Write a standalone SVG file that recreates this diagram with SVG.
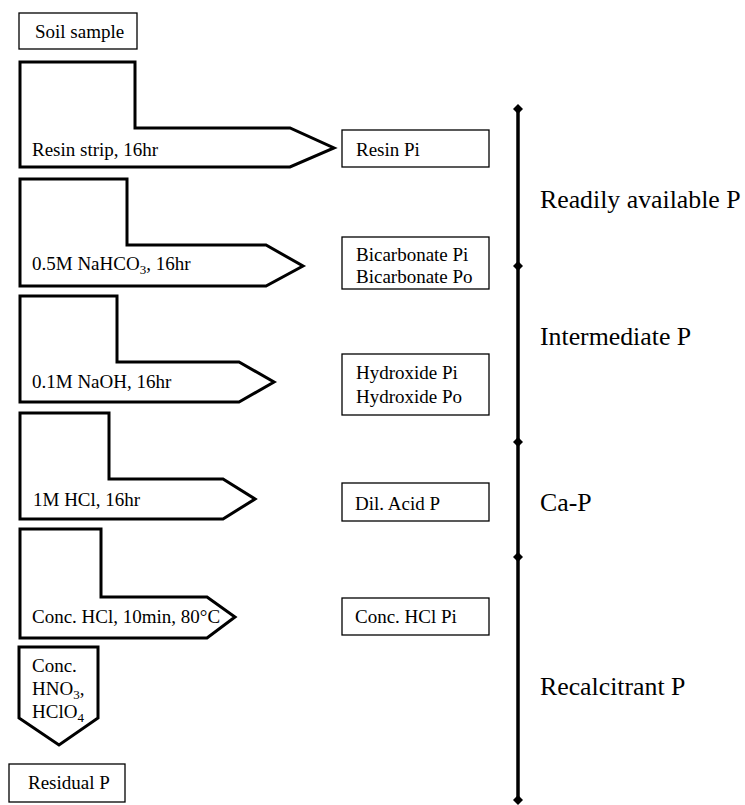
<svg xmlns="http://www.w3.org/2000/svg" width="745" height="805" viewBox="0 0 745 805">
<style>
text,tspan{font-family:"Liberation Serif","Times New Roman",serif;fill:#000}
.t{font-size:19px}
.big{font-size:25.8px}
.sub{font-size:13px}
.step{fill:#fff;stroke:#000;stroke-width:3;stroke-linejoin:miter}
.box{fill:#fff;stroke:#000;stroke-width:1.3}
.axis{stroke:#000;stroke-width:3.5}
.dia{fill:#000}
</style>
<rect width="745" height="805" fill="#fff"/>
<g id="soil"><rect class="box" x="19" y="13" width="118" height="36"/><text class="t" x="35" y="38">Soil sample</text></g>
<g id="step1"><path class="step" d="M20,62 H135 V128 H290 L334,148 L290,167 H20 Z"/><text class="t" x="32" y="156">Resin strip, 16hr</text></g>
<g id="step2"><path class="step" d="M20,179 H127 V245 H266 L303,266 L266,286 H20 Z"/><text class="t" x="32" y="270">0.5M NaHCO<tspan class="sub" dy="4">3</tspan><tspan dy="-4">, 16hr</tspan></text></g>
<g id="step3"><path class="step" d="M20,296 H117 V362 H239 L274,382 L239,402 H20 Z"/><text class="t" x="32" y="388">0.1M NaOH, 16hr</text></g>
<g id="step4"><path class="step" d="M20,413 H109 V479 H223 L255,499 L223,519 H20 Z"/><text class="t" x="33" y="506">1M HCl, 16hr</text></g>
<g id="step5"><path class="step" d="M20,529 H101 V597 H207 L235,617 L207,638 H20 Z"/><text class="t" x="32" y="623">Conc. HCl, 10min, 80°C</text></g>
<g id="step6"><path class="step" d="M19,647 H98 V718 L59,745 L19,718 Z"/><text class="t" x="32" y="672">Conc.</text><text class="t" x="32" y="695">HNO<tspan class="sub" dy="4">3</tspan><tspan dy="-4">,</tspan></text><text class="t" x="32" y="718">HClO<tspan class="sub" dy="4">4</tspan></text></g>
<g id="residual"><rect class="box" x="9" y="764" width="116" height="38"/><text class="t" x="28" y="789">Residual P</text></g>
<g id="resinPi"><rect class="box" x="342" y="130" width="147" height="37"/><text class="t" x="356" y="156">Resin Pi</text></g>
<g id="bicarb"><rect class="box" x="342" y="237" width="147" height="52"/><text class="t" x="356" y="261">Bicarbonate Pi</text><text class="t" x="356" y="283">Bicarbonate Po</text></g>
<g id="hydrox"><rect class="box" x="342" y="354" width="147" height="61"/><text class="t" x="356" y="379">Hydroxide Pi</text><text class="t" x="356" y="403">Hydroxide Po</text></g>
<g id="dilacid"><rect class="box" x="342" y="483" width="147" height="38"/><text class="t" x="355" y="510">Dil. Acid P</text></g>
<g id="conchcl"><rect class="box" x="342" y="598" width="147" height="37"/><text class="t" x="355" y="623">Conc. HCl Pi</text></g>
<g id="connectors">
<line class="axis" x1="518" y1="109" x2="518" y2="800"/>
<polygon class="dia" points="518,104 523,109 518,114 513,109"/>
<polygon class="dia" points="518,261 523,266 518,271 513,266"/>
<polygon class="dia" points="518,437 523,442 518,447 513,442"/>
<polygon class="dia" points="518,552 523,557 518,562 513,557"/>
<polygon class="dia" points="518,795 523,800 518,805 513,800"/>
</g>
<g id="labels">
<text class="big" x="540" y="208">Readily available P</text>
<text class="big" x="540" y="345">Intermediate P</text>
<text class="big" x="540" y="511">Ca-P</text>
<text class="big" x="540" y="695">Recalcitrant P</text>
</g>
</svg>
